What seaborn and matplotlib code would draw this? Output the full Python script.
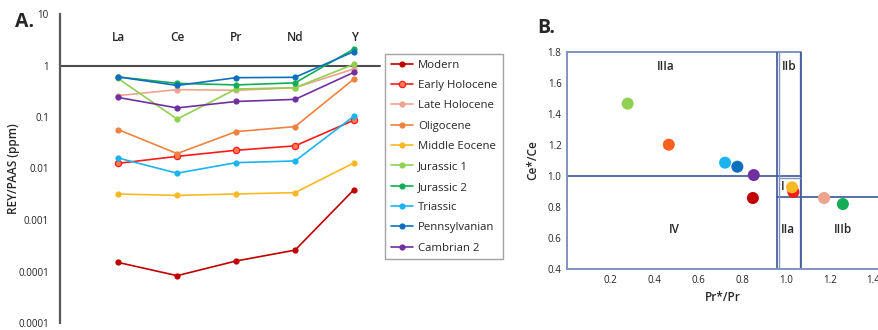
import numpy as np
import pandas as pd
import matplotlib
matplotlib.use("Agg")
import matplotlib.pyplot as plt
import seaborn as sns
from matplotlib.lines import Line2D

sns.set_style("white")
plt.rcParams["font.family"] = ["Open Sans", "DejaVu Sans"]

# ---- data -------------------------------------------------------------
elements = ["La", "Ce", "Pr", "Nd", "Y"]
series = ["Modern", "Early Holocene", "Late Holocene", "Oligocene", "Middle Eocene",
          "Jurassic 1", "Jurassic 2", "Triassic", "Pennsylvanian", "Cambrian 2"]
colors = ["#c00000", "#ff1a1a", "#eea48c", "#ef8240", "#f9b925",
          "#92d050", "#12ad55", "#1bb4ef", "#0f6fbf", "#7030a0"]

modern = [0.00015, 0.000083, 0.00016, 0.00026, 0.0039]
early_holocene = [0.0126, 0.0172, 0.0226, 0.0275, 0.087]
late_holocene = [0.26, 0.34, 0.33, 0.37, 0.86]
oligocene = [0.057, 0.0195, 0.052, 0.065, 0.55]
middle_eocene = [0.0032, 0.0030, 0.0032, 0.0034, 0.0129]
jurassic_1 = [0.56, 0.091, 0.35, 0.37, 1.06]
jurassic_2 = [0.60, 0.45, 0.42, 0.46, 2.1]
triassic = [0.016, 0.0081, 0.013, 0.014, 0.104]
pennsylvanian = [0.60, 0.41, 0.58, 0.59, 1.87]
cambrian_2 = [0.24, 0.15, 0.20, 0.22, 0.74]
rey_values = [modern, early_holocene, late_holocene, oligocene, middle_eocene,
              jurassic_1, jurassic_2, triassic, pennsylvanian, cambrian_2]

# Pr/Pr* vs Ce/Ce* anomaly plot
pr_anom = [0.849, 1.034, 1.174, 0.465, 1.028, 0.277, 1.26, 0.722, 0.778, 0.853]
ce_anom = [0.858, 0.897, 0.858, 1.202, 0.927, 1.467, 0.819, 1.086, 1.06, 1.006]
scatter_colors = ["#c00000", "#ff1a1a", "#eea48c", "#ff6020", "#f9b925",
                  "#92d050", "#12ad55", "#1bb4ef", "#0f6fbf", "#7030a0"]

rey_ticks = [10, 1, 0.1, 0.01, 0.001, 0.0001, 0.00001]
rey_ticklabels = ["10", "1", "0.1", "0.01", "0.001", "0.0001", "0.0001"]

# ---- figure -----------------------------------------------------------
W, H = 879, 330
fig = plt.figure(figsize=(W / 100, H / 100), dpi=100)

def fbox(x0, y0, x1, y1):
    return [x0 / W, 1 - y1 / H, (x1 - x0) / W, (y1 - y0) / H]

# Panel A: REY/PAAS spider diagram
axA = fig.add_axes(fbox(60, 14, 380, 323))
rows = []
for name, vals in zip(series, rey_values):
    for i, v in enumerate(vals):
        rows.append({"series": name, "pos": i, "value": v})
dfA = pd.DataFrame(rows)
palette = dict(zip(series, colors))
sns.lineplot(data=dfA, x="pos", y="value", hue="series", palette=palette,
             hue_order=series, marker="o", markersize=4.5, markeredgewidth=0,
             linewidth=1.2, legend=False, ax=axA)
# Early Holocene markers have a lighter centre
for line in axA.lines:
    if line.get_color() == "#ff1a1a":
        line.set_markerfacecolor("#ff7a50")
        line.set_markeredgecolor("#ff1a1a")
        line.set_markeredgewidth(0.9)

axA.set_yscale("log")
axA.set_ylim(1e-5, 10)
axA.set_xlim(-0.985, 4.44)
axA.set_yticks(rey_ticks)
axA.set_yticklabels(rey_ticklabels)
axA.yaxis.set_minor_locator(matplotlib.ticker.NullLocator())
axA.set_xticks([])
axA.set_xlabel("")
axA.set_ylabel("REY/PAAS (ppm)", fontsize=8.5, fontweight="semibold")
axA.yaxis.set_label_coords(-40 / 320, 0.5)
for s in ["top", "right", "bottom"]:
    axA.spines[s].set_visible(False)
axA.spines["left"].set_color("#595959")
axA.spines["left"].set_linewidth(1.6)
axA.tick_params(axis="y", direction="out", length=5, width=1.4, color="#595959",
                labelsize=7, labelcolor="#222222", pad=3)
axA.axhline(1, color="#4d4d4d", linewidth=1.5, clip_on=False, zorder=1)
for i, el in enumerate(elements):
    axA.text(i, 3.5, el, ha="center", va="center", fontsize=8.5, fontweight="semibold")
fig.text(15 / W, 1 - 22 / H, "A.", fontsize=14, fontweight="bold", ha="left", va="center")

handles = []
for name, c in zip(series, colors):
    if name == "Early Holocene":
        h = Line2D([0], [0], color=c, marker="o", markersize=4.5, markerfacecolor="#ff7a50",
                   markeredgecolor=c, markeredgewidth=0.9, linewidth=1.2)
    else:
        h = Line2D([0], [0], color=c, marker="o", markersize=4.5, markeredgewidth=0,
                   linewidth=1.2)
    handles.append(h)
leg = fig.legend(handles, series, loc="upper left", bbox_to_anchor=(385 / W, 1 - 54 / H),
                 fontsize=8.2, frameon=True, fancybox=False, handlelength=2.0,
                 handletextpad=0.4, labelspacing=0.82, borderpad=0.5, borderaxespad=0)
leg.get_frame().set_edgecolor("#8c8c8c")
leg.get_frame().set_linewidth(1.0)

# Panel B: Ce and Pr anomaly fields
axB = fig.add_axes(fbox(567, 52, 879, 269))
dfB = pd.DataFrame({"series": series, "pr": pr_anom, "ce": ce_anom})
sns.scatterplot(data=dfB, x="pr", y="ce", hue="series", hue_order=series,
                palette=dict(zip(series, scatter_colors)), s=75, linewidth=0,
                legend=False, ax=axB, zorder=3)
axB.set_xlim(0, 1.425)
axB.set_ylim(0.4, 1.8)
axB.set_xticks([0.2, 0.4, 0.6, 0.8, 1.0, 1.2, 1.4])
axB.set_yticks([0.4, 0.6, 0.8, 1.0, 1.2, 1.4, 1.6, 1.8])
axB.xaxis.set_major_formatter(matplotlib.ticker.FormatStrFormatter("%.1f"))
axB.yaxis.set_major_formatter(matplotlib.ticker.FormatStrFormatter("%.1f"))
axB.tick_params(axis="x", direction="in", length=5, width=1.4, color="#595959",
                labelsize=7, labelcolor="#222222", pad=4)
axB.tick_params(axis="y", direction="in", length=6, width=1.4, color="#595959",
                labelsize=7, labelcolor="#222222", pad=4)
axB.set_xlabel("Pr*/Pr", fontsize=8.5, fontweight="semibold", labelpad=4)
axB.set_ylabel("Ce*/Ce", fontsize=8.5, fontweight="semibold", labelpad=6)
axB.spines["top"].set_visible(False)
axB.spines["right"].set_visible(False)
for s in ["left", "bottom"]:
    axB.spines[s].set_color("#7f93c2")
    axB.spines[s].set_linewidth(1.4)

frame_c = "#7f93c2"
field_c = "#3b5795"
axB.plot([0, 1.07], [1.8, 1.8], color=frame_c, lw=1.4, clip_on=False)
axB.plot([0, 1.07], [1.0, 1.0], color=field_c, lw=1.2)
axB.plot([0.96, 1.425], [0.862, 0.862], color=field_c, lw=1.2)
axB.plot([0.958, 0.958], [0.4, 1.8], color=field_c, lw=1.2)
axB.plot([0.966, 0.966], [0.4, 1.8], color=frame_c, lw=1.0)
axB.plot([1.064, 1.064], [0.4, 1.8], color=frame_c, lw=1.0)
axB.plot([1.07, 1.07], [0.4, 1.8], color=field_c, lw=1.2)
axB.plot([0.966, 1.064], [0.99, 0.99], color=frame_c, lw=1.0)

for txt, x, y in [("IIIa", 0.45, 1.705), ("IIb", 1.013, 1.705), ("I", 0.985, 0.93),
                  ("IV", 0.488, 0.656), ("IIa", 1.01, 0.656), ("IIIb", 1.262, 0.656)]:
    axB.text(x, y, txt, ha="center", va="center", fontsize=8.5, fontweight="semibold")
fig.text(537 / W, 1 - 28 / H, "B.", fontsize=14, fontweight="bold", ha="left", va="center")

fig.savefig("out.png", dpi=100)
